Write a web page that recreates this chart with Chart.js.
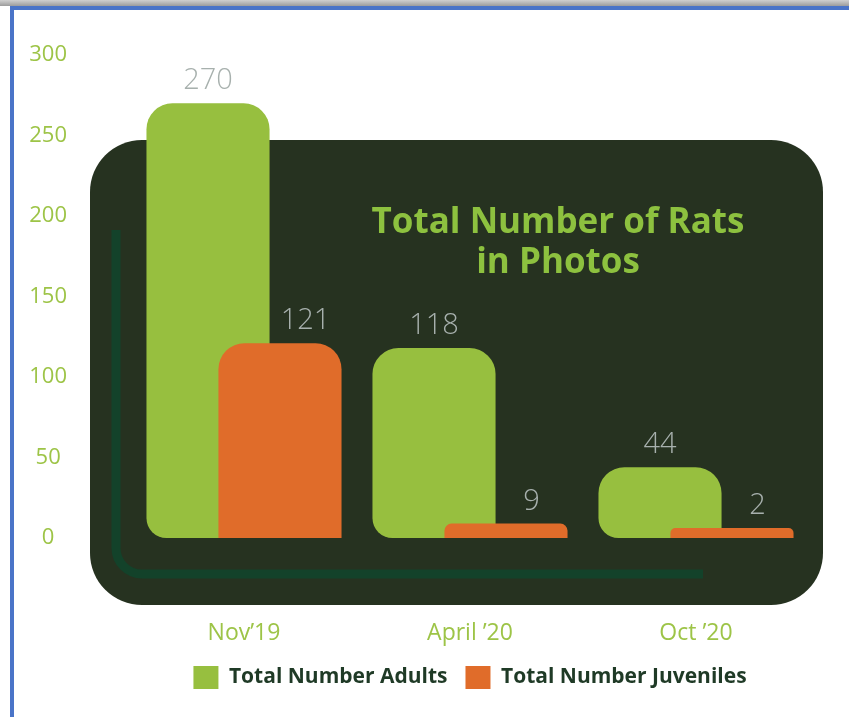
<!DOCTYPE html>
<html><head><meta charset="utf-8">
<script src="https://cdn.jsdelivr.net/npm/chart.js@4/dist/chart.umd.min.js"></script>
<style>
html,body{margin:0;padding:0;background:#fff;width:849px;height:717px;overflow:hidden;}
#topbar{position:absolute;left:0;top:0;width:849px;height:6px;background:linear-gradient(#d0d0d0,#9c9c9c);}
#frame{position:absolute;left:10px;top:6px;width:839px;height:711px;border-top:4px solid #4a74c8;border-left:4px solid #4a74c8;box-sizing:border-box;}
#wrap{position:absolute;left:0;top:0;width:849px;height:717px;}
</style></head><body>
<div id="topbar"></div><div id="frame"></div>
<div id="wrap"><canvas id="c" width="849" height="717"></canvas></div>
<script>
const categories = ['Nov\u201919', 'April \u201920', 'Oct \u201920'];
const adults = [270, 118, 44];
const juveniles = [121, 9, 2];
const yTicks = [0, 50, 100, 150, 200, 250, 300];
const seriesNames = ['Total Number Adults', 'Total Number Juveniles'];
const chartTitle = ['Total Number of Rats', 'in Photos'];

function roundRectPath(ctx, x, y, w, h, r) {
  ctx.beginPath();
  ctx.moveTo(x + r, y);
  ctx.lineTo(x + w - r, y);
  ctx.arcTo(x + w, y, x + w, y + r, r);
  ctx.lineTo(x + w, y + h - r);
  ctx.arcTo(x + w, y + h, x + w - r, y + h, r);
  ctx.lineTo(x + r, y + h);
  ctx.arcTo(x, y + h, x, y + h - r, r);
  ctx.lineTo(x, y + r);
  ctx.arcTo(x, y, x + r, y, r);
  ctx.closePath();
}

const backdrop = {
  id: 'backdrop',
  beforeDraw(chart) {
    const ctx = chart.ctx;
    ctx.save();
    ctx.fillStyle = '#263220';
    roundRectPath(ctx, 90, 140, 733, 465, 52);
    ctx.fill();
    ctx.strokeStyle = '#13422a';
    ctx.lineWidth = 9;
    ctx.beginPath();
    ctx.moveTo(116, 230);
    ctx.lineTo(116, 548);
    ctx.arcTo(116, 574, 142, 574, 26);
    ctx.lineTo(703, 574);
    ctx.stroke();
    ctx.fillStyle = '#8dc13f';
    ctx.font = 'bold 35px "Open Sans"';
    ctx.textAlign = 'center';
    ctx.textBaseline = 'alphabetic';
    ctx.fillText(chartTitle[0], 558, 233);
    ctx.fillText(chartTitle[1], 558, 273);
    ctx.restore();
  }
};

// Juveniles overlap the adults: draw that dataset last so it sits on top.
const layering = {
  id: 'layering',
  beforeDatasetDraw(chart, args) {
    if (args.index === 1) return false;
  },
  afterDatasetsDraw(chart) {
    const ctx = chart.ctx;
    const m0 = chart.getDatasetMeta(0), m1 = chart.getDatasetMeta(1);
    m1.controller.draw();
    ctx.save();
    ctx.fillStyle = '#a7b0ad';
    ctx.font = '300 29px "Open Sans"';
    ctx.textAlign = 'center';
    ctx.textBaseline = 'alphabetic';
    m0.data.forEach((bar, i) => {
      ctx.fillText(String(adults[i]), bar.x, bar.y - 14);
    });
    m1.data.forEach((bar, i) => {
      const a = m0.data[i];
      const x = ((a.x + a.width / 2) + (bar.x + bar.width / 2)) / 2;
      ctx.fillText(String(juveniles[i]), x, bar.y - 14);
    });
    ctx.restore();
  }
};

new Chart(document.getElementById('c'), {
  type: 'bar',
  data: {
    labels: categories,
    datasets: [
      { label: seriesNames[0], data: adults, backgroundColor: '#97bf3f', borderWidth: 0, borderSkipped: false,
        borderRadius: { topLeft: 26, topRight: 26, bottomLeft: 20, bottomRight: 0 },
        categoryPercentage: 0.637, barPercentage: 1.71, minBarLength: 10 },
      { label: seriesNames[1], data: juveniles, backgroundColor: '#e06c2a', borderWidth: 0, borderSkipped: false,
        borderRadius: { topLeft: 26, topRight: 26, bottomLeft: 0, bottomRight: 0 },
        categoryPercentage: 0.637, barPercentage: 1.71, minBarLength: 10 }
    ]
  },
  options: {
    responsive: false,
    animation: false,
    devicePixelRatio: 1,
    layout: { padding: { left: 28, right: 40, top: 55, bottom: 18 } },
    plugins: {
      legend: {
        position: 'bottom', fullSize: false,
        labels: { boxWidth: 25, boxHeight: 23, padding: 18, color: '#1f3a26',
          font: { family: 'Open Sans', size: 21, weight: 'bold' } }
      },
      tooltip: { enabled: false }
    },
    scales: {
      x: {
        grid: { display: false, drawTicks: false }, border: { display: false },
        ticks: { color: '#9dc447', font: { family: 'Open Sans', size: 23 }, padding: 82 },
        afterFit(s) { s.height = 110; }
      },
      y: {
        min: 0, max: 300,
        afterBuildTicks(s) { s.ticks = yTicks.map(v => ({ value: v })); },
        grid: { display: false, drawTicks: false }, border: { display: false },
        ticks: { color: '#9dc447', font: { family: 'Open Sans', size: 22 }, padding: 64, crossAlign: 'center' },
        afterFit(s) { s.width = 103; s.paddingTop = 12; s.paddingBottom = 12; }
      }
    }
  },
  plugins: [backdrop, layering]
});
</script>
</body></html>
